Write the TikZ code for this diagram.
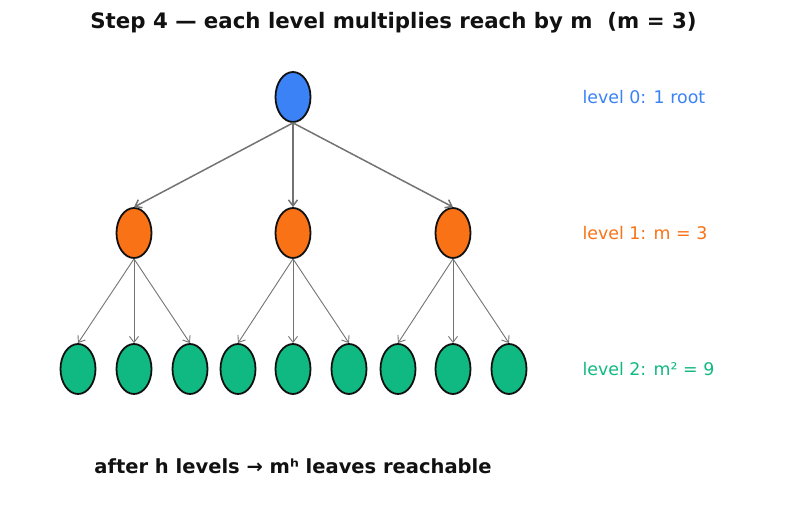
\documentclass[tikz,border=0pt]{standalone}
\usepackage{fontspec}
\setmainfont{DejaVu Sans}
\usepackage{xcolor}
\usetikzlibrary{arrows.meta,shapes.geometric}
\definecolor{rootblue}{HTML}{3B82F6}
\definecolor{midorange}{HTML}{F97316}
\definecolor{leafgreen}{HTML}{10B981}
\definecolor{edgegray}{HTML}{737373}
\definecolor{inkdark}{HTML}{111111}

\begin{document}
\begin{tikzpicture}[
    x=1pt, y=-1pt,
    >={Straight Barb[length=6pt,width=9pt]},
    vertex/.style={ellipse, draw=inkdark, line width=1.8pt, minimum width=35pt, minimum height=50pt, inner sep=0pt},
    rootnode/.style={vertex, fill=rootblue},
    midnode/.style={vertex, fill=midorange},
    leafnode/.style={vertex, fill=leafgreen},
    thickedge/.style={->, edgegray, line width=1.5pt},
    thinedge/.style={->, edgegray, line width=0.9pt},
    levellabel/.style={anchor=west, font=\fontsize{17.4}{21}\selectfont}
]
\useasboundingbox (0,0) rectangle (787,508);

\node[font=\fontsize{21.3}{25}\selectfont\bfseries, text=inkdark] (title) at (393.5,23) {Step 4 — each level multiplies reach by m\ \ (m = 3)};

% the tree
\node[rootnode] (root) at (293,97) {};
\node[midnode] (a1) at (134,233) {};
\node[midnode] (a2) at (293,233) {};
\node[midnode] (a3) at (453,233) {};
\foreach \i/\x in {1/78,2/134,3/190,4/238,5/293,6/349,7/398,8/453,9/509}
    \node[leafnode] (b\i) at (\x,369) {};

\foreach \c in {a1,a2,a3}
    \draw[thickedge] (root.south) -- (\c.north);
\foreach \p/\c in {a1/b1,a1/b2,a1/b3,a2/b4,a2/b5,a2/b6,a3/b7,a3/b8,a3/b9}
    \draw[thinedge] (\p.south) -- (\c.north);

% level counts
\node[levellabel, text=rootblue] (lab0) at (579,97) {level 0: 1 root};
\node[levellabel, text=midorange] (lab1) at (579,233) {level 1: m = 3};
\node[levellabel, text=leafgreen] (lab2) at (579,369) {level 2: m² = 9};

\node[font=\fontsize{19.5}{23}\selectfont\bfseries, text=inkdark] (note) at (293,466) {after h levels → mʰ leaves reachable};
\end{tikzpicture}
\end{document}
